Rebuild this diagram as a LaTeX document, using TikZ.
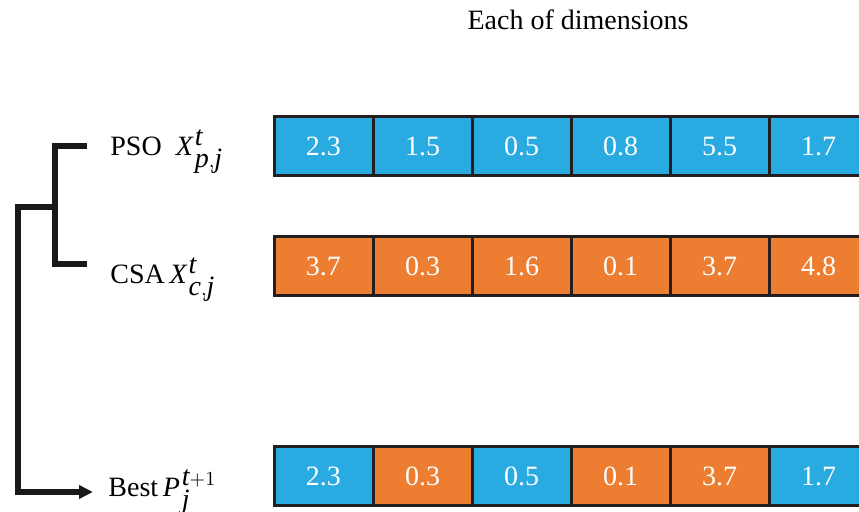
\documentclass[tikz,border=0pt]{standalone}
\usepackage{fontspec}
\setmainfont{Liberation Serif}
\usetikzlibrary{arrows.meta,positioning}
\definecolor{CellBlue}{HTML}{29ABE2}
\definecolor{CellOrange}{HTML}{ED7D31}
\definecolor{CellEdge}{HTML}{231F20}
\newcommand{\mi}[1]{\textit{#1}\kern1pt}

\begin{document}
\begin{tikzpicture}[x=0.5pt,y=-0.5pt,
      font=\rmfamily\fontsize{14}{16}\selectfont,
      bc/.style={draw=CellEdge,fill=CellBlue,line width=1.5pt,minimum width=49.5pt,minimum height=29.5pt,inner sep=0pt,outer sep=0pt,text=white},
      oc/.style={draw=CellEdge,fill=CellOrange,line width=1.5pt,minimum width=49.5pt,minimum height=29.5pt,inner sep=0pt,outer sep=0pt,text=white},
      lbl/.style={anchor=base west,inner sep=0pt},
      br/.style={draw=black!90,line width=3.2pt}
    ]
      \useasboundingbox (0,0) rectangle (859,512);
      \clip (0,0) rectangle (859,512);
      \node (dim) at (578,20) {Each of dimensions};
      % PSO row
      \node[lbl] (pso) at (110,156) {PSO\ \ $\mi{X}^{\textit{t}}_{\textit{p},\textit{j}}$};
      \node[bc] (p1) at (323.5,146.5) {2.3};
      \node[bc,right=0pt of p1] (p2) {1.5};
      \node[bc,right=0pt of p2] (p3) {0.5};
      \node[bc,right=0pt of p3] (p4) {0.8};
      \node[bc,right=0pt of p4] (p5) {5.5};
      \node[bc,right=0pt of p5] (p6) {1.7};
      % CSA row
      \node[lbl] (csa) at (110,284) {CSA\,$\mi{X}^{\textit{t}}_{\textit{c},\textit{j}}$};
      \node[oc] (c1) at (323.5,266) {3.7};
      \node[oc,right=0pt of c1] (c2) {0.3};
      \node[oc,right=0pt of c2] (c3) {1.6};
      \node[oc,right=0pt of c3] (c4) {0.1};
      \node[oc,right=0pt of c4] (c5) {3.7};
      \node[oc,right=0pt of c5] (c6) {4.8};
      % best row
      \node[lbl] (best) at (108,497) {Best\,$\mi{P}^{\textit{t}+1}_{\textit{j}}$};
      \node[bc] (b1) at (323.5,476) {2.3};
      \node[oc,right=0pt of b1] (b2) {0.3};
      \node[bc,right=0pt of b2] (b3) {0.5};
      \node[oc,right=0pt of b3] (b4) {0.1};
      \node[oc,right=0pt of b4] (b5) {3.7};
      \node[bc,right=0pt of b5] (b6) {1.7};
      % bracket
      \coordinate (pe) at (87,146);
      \coordinate (ce) at (87,264);
      \coordinate (jn) at (55,207);
      \coordinate (dn) at (18,492);
      \coordinate (be) at (93,492);
      \draw[br] (pe) -| (jn) |- (ce);
      \draw[br,-{Triangle[length=7pt,width=6.5pt]}] (jn) -| (dn) -- (be);
    \end{tikzpicture}
\end{document}
